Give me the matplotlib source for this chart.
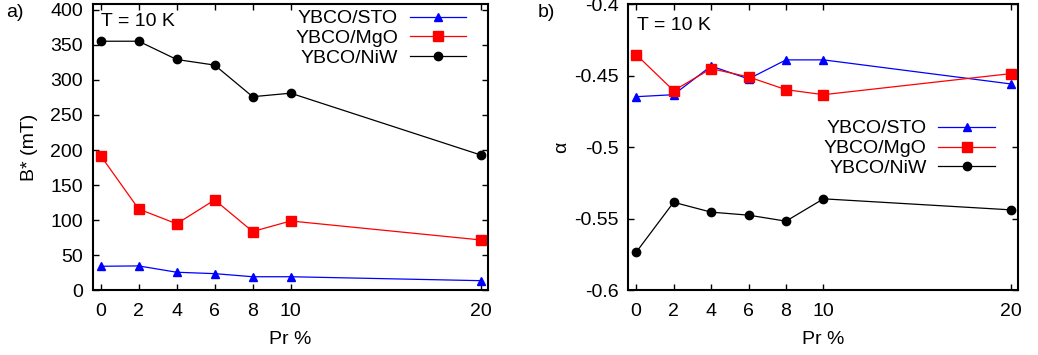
import numpy as np
import matplotlib
matplotlib.use("Agg")
import matplotlib.pyplot as plt

plt.rcParams['font.family'] = ['Liberation Sans', 'DejaVu Sans']
FS = 14

# Pr content (%)
pr = [0, 2, 4, 6, 8, 10, 20]

# B* (mT) at T = 10 K
bstar_sto = [34.5, 35, 26, 24, 19.6, 19.6, 14]
bstar_mgo = [192, 116, 95, 129, 84, 99, 72]
bstar_niw = [355, 355, 329, 321, 276, 281, 193]

# alpha exponent at T = 10 K
alpha_sto = [-0.4647, -0.4633, -0.4433, -0.4523, -0.4390, -0.4390, -0.4558]
alpha_mgo = [-0.4353, -0.4605, -0.4451, -0.4509, -0.4598, -0.4633, -0.4486]
alpha_niw = [-0.5733, -0.5384, -0.5453, -0.5474, -0.5516, -0.5360, -0.5437]

labels = ["YBCO/STO", "YBCO/MgO", "YBCO/NiW"]
styles = [
    dict(color=(0, 0, 1), marker='^', markersize=5.5),
    dict(color=(1, 0, 0), marker='s', markersize=7),
    dict(color='black', marker='o', markersize=6),
]


def setup_axis(ax):
    ax.set_xlim(-0.42, 20.4)
    ax.set_xticks(pr)
    ax.tick_params(direction='in', length=4, width=1.0, top=True, right=True,
                   labelsize=FS)
    ax.tick_params(axis='x', pad=9)
    ax.tick_params(axis='y', pad=7)
    for sp in ax.spines.values():
        sp.set_linewidth(1.5)
    ax.set_xlabel("Pr %", fontsize=FS, labelpad=8)


def draw_series(ax, series):
    for ys, lab, st in zip(series, labels, styles):
        ax.plot(pr, ys, linewidth=0.9, label=lab, **st)


def add_legend(ax, anchor):
    ax.legend(loc='upper right', bbox_to_anchor=anchor, frameon=False,
              markerfirst=False, handlelength=2.9, handletextpad=0.6,
              labelspacing=0.12, borderpad=0, borderaxespad=0, fontsize=FS)


fig = plt.figure(figsize=(10.38, 3.55), dpi=100)

# a) B* vs Pr
ax1 = fig.add_axes([0.0893, 0.1817, 0.3811, 0.807])
draw_series(ax1, [bstar_sto, bstar_mgo, bstar_niw])
setup_axis(ax1)
ax1.set_ylim(0, 408)
ax1.set_yticks(np.arange(0, 401, 50))
ax1.set_ylabel("B* (mT)", fontsize=FS, labelpad=9)
ax1.text(0.022, 0.938, "T = 10 K", transform=ax1.transAxes, fontsize=FS,
         va='center', ha='left')
add_legend(ax1, (0.944, 0.98))
fig.text(0.006, 0.965, "a)", fontsize=FS, va='center', ha='left')

# b) alpha vs Pr
ax2 = fig.add_axes([0.6053, 0.1817, 0.3757, 0.807])
draw_series(ax2, [alpha_sto, alpha_mgo, alpha_niw])
setup_axis(ax2)
ax2.set_ylim(-0.6, -0.4)
ax2.set_yticks([-0.6, -0.55, -0.5, -0.45, -0.4])
ax2.set_yticklabels(["-0.6", "-0.55", "-0.5", "-0.45", "-0.4"])
ax2.set_ylabel("α", fontsize=FS, labelpad=3)
ax2.text(0.022, 0.924, "T = 10 K", transform=ax2.transAxes, fontsize=FS,
         va='center', ha='left')
add_legend(ax2, (0.940, 0.596))
fig.text(0.518, 0.965, "b)", fontsize=FS, va='center', ha='left')

fig.savefig("out.png", dpi=100)
